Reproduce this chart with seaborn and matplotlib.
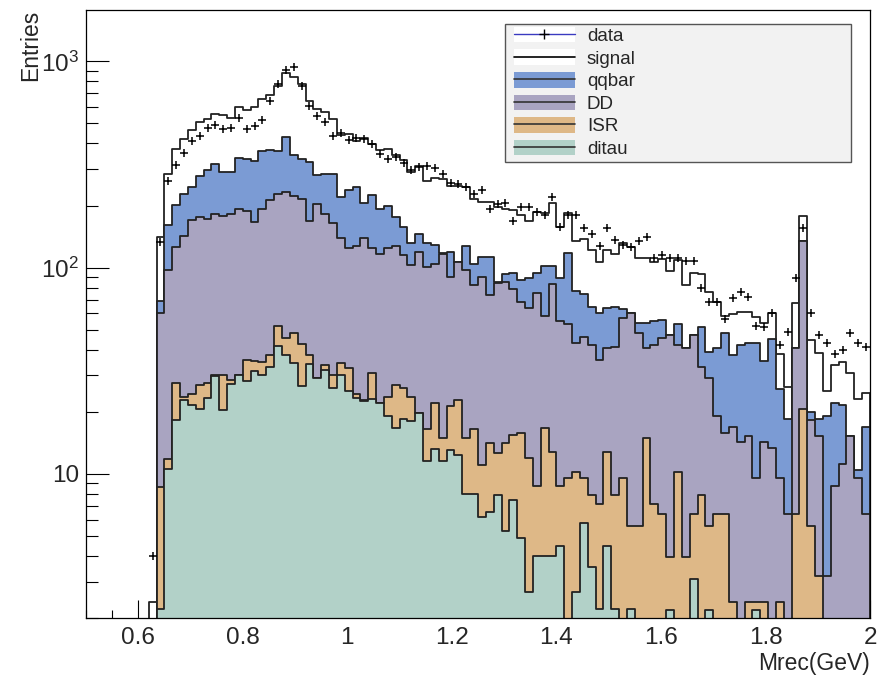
import numpy as np
import pandas as pd
import matplotlib
matplotlib.use("Agg")
import matplotlib.pyplot as plt
from matplotlib.lines import Line2D
from matplotlib.patches import Patch, Rectangle
from matplotlib.ticker import (MultipleLocator, LogLocator, FixedLocator,
                               FixedFormatter, NullFormatter, FuncFormatter)
import seaborn as sns

# 100 bins of 0.015 GeV from 0.5 to 2.0
edges = np.linspace(0.5, 2.0, 101)
centers = 0.5 * (edges[:-1] + edges[1:])

# stacked heights (top of each layer), bin by bin
sig_stack = [0, 0, 0, 0, 0, 0, 0, 0, 2.38,
             141, 283, 375, 419, 464, 511, 526, 557, 548, 532, 598,
             578, 603, 655, 685, 757, 881, 839, 779, 641, 590,
             566, 528, 442, 446, 412, 424, 399, 370, 375, 352,
             331, 292, 311, 264, 272, 269, 248, 250, 245, 214,
             208, 208, 197, 193, 191, 180, 169, 187, 183, 206,
             158, 185, 135, 137, 122, 106, 122, 117, 131, 126,
             111, 111, 107, 110, 96.6, 109, 82.4, 93.8, 92.8, 76.4,
             68.4, 58.3, 59.6, 61.2, 61.2, 57.4, 53.7, 60.5, 38.1, 26.5,
             67.6, 178, 44.6, 38.7, 25.2, 33.7, 35.0, 31.0, 23.0, 24.6]

qq_stack = [0, 0, 0, 0, 0, 0, 0, 0, 0,
            69, 161, 201, 228, 245, 278, 296, 318, 292, 292, 341,
            335, 328, 367, 372, 367, 429, 352, 335, 324, 281,
            284, 286, 219, 238, 245, 206, 225, 193, 200, 176,
            157, 132, 145, 131, 129, 118, 119, 107, 128, 104,
            112, 113, 85, 93, 94.6, 87.1, 88.7, 94.6, 102, 102,
            88.7, 118, 77.0, 74.5, 64.7, 60.5, 63.5, 64.7, 63.2, 60.5,
            54.1, 53.7, 55.3, 55.7, 47.1, 53.3, 40.6, 47.1, 51.7, 39.1,
            40.6, 48.4, 37.7, 42.2, 43.0, 43.0, 35.4, 44.9, 25.7, 18.4,
            40.6, 134, 19.9, 18.4, 19.1, 22.1, 21.6, 15.2, 10.4, 16.8]

dd_stack = [0, 0, 0, 0, 0, 0, 0, 0, 0,
            60.3, 97.7, 126, 142, 171, 176, 173, 182, 177, 182, 193,
            189, 167, 192, 213, 228, 233, 223, 216, 169, 204,
            182, 164, 139, 124, 128, 139, 125, 116, 125, 128,
            115, 103, 119, 101, 104, 116, 90, 107, 97, 82.8,
            90, 73.8, 84, 85.6, 78.8, 68.4, 63.5, 75.0, 58.3, 83.0,
            55.3, 53.3, 43.0, 45.9, 42.2, 35.6, 40.6, 41.1, 56.8, 60.0,
            48.4, 40.6, 42.2, 45.4, 47.1, 42.2, 40.6, 47.1, 32.9, 29.3,
            19.1, 15.8, 16.8, 14.3, 15.2, 9.52, 14.3, 13.4, 9.52, 6.37,
            40.6, 134, 18.3, 15.2, 3.18, 8.74, 11.2, 15.2, 9.52, 6.37]

isr_stack = [0, 0, 0, 0, 0, 0, 0, 0, 0,
             8.63, 11.8, 27.5, 23.7, 24.3, 26.9, 27.7, 30.0, 30.0, 28.5, 30.3,
             35.5, 35.4, 34.8, 37.8, 52.1, 45.5, 48.4, 42.8, 37.8, 29.2,
             33.6, 30.1, 34.5, 32.7, 24.5, 22.8, 30.7, 22.1, 23.7, 26.9,
             26.0, 23.5, 19.7, 16.5, 22.1, 14.9, 21.4, 22.8, 14.9, 16.5,
             11.0, 14.1, 12.6, 14.1, 15.5, 15.8, 11.9, 8.74, 16.6, 12.7,
             8.74, 9.52, 10.25, 9.52, 7.90, 7.15, 12.7, 7.90, 9.52, 5.59,
             5.59, 15.0, 7.15, 6.37, 3.97, 10.25, 3.97, 6.37, 7.90, 5.59,
             6.37, 6.37, 2.38, 0, 2.38, 2.38, 2.38, 0, 2.38, 0,
             6.37, 20.6, 5.57, 3.18, 0, 0, 0, 0, 0, 0]

ditau = [0, 0, 0, 0, 0, 0, 0, 0, 0,
         2.2, 10.6, 18.2, 22.8, 21.6, 20.7, 23.2, 29.7, 20.3, 27.2, 30.3,
         28.1, 31.4, 30.1, 33.1, 41.9, 37.8, 34.5, 26.6, 34.1, 29.2,
         32.0, 26.0, 30.1, 25.2, 23.2, 22.5, 23.0, 22.1, 19.1, 16.7,
         18.5, 18.1, 19.7, 11.5, 13.2, 11.5, 13.0, 12.3, 8.0, 8.0,
         6.2, 6.5, 7.9, 5.3, 7.5, 4.87, 2.67, 4.0, 4.0, 4.0,
         4.47, 0, 2.67, 5.76, 3.55, 2.2, 4.47, 2.2, 0, 2.2,
         0, 0, 0, 0, 2.19, 0, 0, 3.09, 0, 2.19,
         0, 0, 0, 0, 0, 2.19, 0, 0, 0, 0,
         0, 0, 0, 0, 0, 0, 0, 0, 0, 0]

nan = np.nan
data_pts = [nan, nan, nan, nan, nan, nan, nan, nan, 4.0,
            133, 264, 315, 359, 412, 437, 476, 494, 470, 476, 532,
            470, 486, 519, 641, 779, 911, 942, 757, 608, 543,
            507, 437, 448, 416, 424, 419, 399, 355, 338, 342,
            321, 296, 308, 311, 305, 286, 258, 255, 246, 228,
            238, 192, 204, 206, 169, 196, 196, 187, 180, 219,
            158, 180, 180, 155, 145, 127, 155, 136, 129, 126,
            134, 141, 111, 115, 111, 111, 108, 108, 79.3, 68.4,
            68.4, 56.1, 71.0, 76.4, 71.8, 52.1, 51.3, 60.0, 42.2, 48.9,
            89.4, 156, 60.0, 47.1, 43.3, 38.1, 39.9, 48.4, 43.3, 41.4]

labels = ["data", "signal", "qqbar", "DD", "ISR", "ditau"]
colors = ["white", "#7b9bd4", "#a9a4c1", "#deb887", "#b2d1c8"]
line_col = "#222222"

sns.set_style("ticks")
plt.rcParams["font.family"] = ["Liberation Sans", "DejaVu Sans"]
plt.rcParams["mathtext.default"] = "regular"

fig = plt.figure(figsize=(8.8, 6.75), dpi=100)
ax = fig.add_axes([86 / 880, 1 - 618 / 675, 784 / 880, 608 / 675])

# draw the stack from the top layer down, like THStack does
bin_list = edges.tolist()
for vals, col in zip([sig_stack, qq_stack, dd_stack, isr_stack, ditau], colors):
    df = pd.DataFrame({"mrec": centers, "w": vals})
    sns.histplot(data=df, x="mrec", weights="w", bins=bin_list, element="step",
                 fill=True, color=col, alpha=1, edgecolor=line_col,
                 linewidth=1.3, ax=ax)

pts = pd.DataFrame({"mrec": centers, "n": data_pts}).dropna()
sns.scatterplot(data=pts, x="mrec", y="n", marker="+", s=40, color="black",
                linewidth=1.1, ax=ax, zorder=5, legend=False)

ax.set_yscale("log")
ax.set_xlim(0.5, 2.0)
ax.set_ylim(2, 1775)
ax.set_axisbelow(True)

ax.xaxis.set_major_locator(MultipleLocator(0.2))
ax.xaxis.set_minor_locator(MultipleLocator(0.05))
ax.xaxis.set_major_formatter(FuncFormatter(lambda v, p: "%g" % round(v, 2)))
ax.yaxis.set_major_locator(FixedLocator([10, 100, 1000]))
ax.yaxis.set_major_formatter(FixedFormatter(["10", r"$10^{2}$", r"$10^{3}$"]))
ax.yaxis.set_minor_locator(LogLocator(base=10, subs=np.arange(2, 10)))
ax.yaxis.set_minor_formatter(NullFormatter())

ax.tick_params(axis="both", which="both", direction="in", top=False,
               right=False, color="black", width=0.8)
ax.tick_params(axis="y", which="major", length=16.5, pad=5, labelsize=17.5)
ax.tick_params(axis="y", which="minor", length=8.6)
ax.tick_params(axis="x", which="major", length=13, pad=6.5, labelsize=17.5)
ax.tick_params(axis="x", which="minor", length=5.8)
for sp in ax.spines.values():
    sp.set_linewidth(0.9)
    sp.set_color("black")

ax.set_xlabel("Mrec(GeV)", fontsize=16.5, loc="right")
ax.xaxis.set_label_coords(1.0, -0.056)
ax.set_ylabel("Entries", fontsize=16.5, loc="top")
ax.yaxis.set_label_coords(-0.056, 1.0)

# legend box
ax.add_patch(Rectangle((0.5344, 0.75), 0.4414, 0.227, transform=ax.transAxes,
                       facecolor="#f2f2f2", edgecolor="#555555", lw=1, zorder=6))
handles = [
    (Patch(facecolor="white", edgecolor="none"),
     Line2D([], [], color="#3a3ac0", lw=1, marker="+", mec="black", ms=7)),
    (Patch(facecolor="white", edgecolor="none"), Line2D([], [], color="black", lw=1.2)),
]
for col in colors[1:]:
    handles.append((Patch(facecolor=col, edgecolor="none"),
                    Line2D([], [], color="#333333", lw=1.2)))
leg = ax.legend(handles, labels, loc="upper left", frameon=False,
                bbox_to_anchor=((512 - 86) / 784, (618 - 25) / 608),
                fontsize=13.5, handlelength=3.25, handleheight=0.9,
                handletextpad=0.64, labelspacing=0.23, borderpad=0.1,
                borderaxespad=0)
leg.set_zorder(7)

fig.savefig("out.png", dpi=100)
